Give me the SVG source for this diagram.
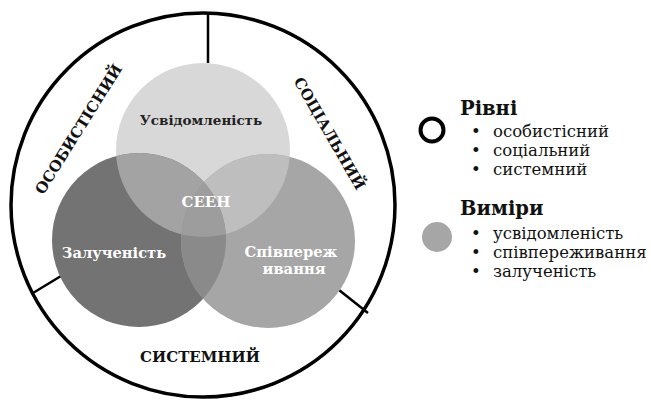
<svg xmlns="http://www.w3.org/2000/svg" width="651" height="403" viewBox="0 0 651 403">
<style>
.b{font-family:"DejaVu Serif","Liberation Serif",serif;font-weight:bold}
.r{font-family:"DejaVu Serif","Liberation Serif",serif}
.lbl{font-size:15px;fill:#111;text-anchor:middle}
.in{text-anchor:middle}
.leg{font-size:16.5px;fill:#111}
.hd{font-size:19.5px}
.ln{stroke:#000;stroke-width:2.5;fill:none}
</style>
<defs>
<clipPath id="cT"><circle cx="203" cy="150" r="87"/></clipPath>
<clipPath id="cL"><circle cx="139" cy="240" r="87"/></clipPath>
<clipPath id="cR"><circle cx="268" cy="241" r="87"/></clipPath>
</defs>
<rect width="651" height="403" fill="#fff"/>
<g id="ring">
<circle cx="203" cy="205" r="192" fill="none" stroke="#000" stroke-width="3.5"/>
</g>
<g id="connectors">
<line class="ln" x1="208" y1="14" x2="208" y2="63"/>
<line class="ln" x1="33" y1="293" x2="61" y2="276"/>
<line class="ln" x1="339" y1="290" x2="368" y2="313"/>
</g>
<g id="venn">
<circle id="top" cx="203" cy="150" r="87" fill="#d8d8d8"/>
<circle id="left" cx="139" cy="240" r="87" fill="#737373"/>
<circle id="right" cx="268" cy="241" r="87" fill="#a6a6a6"/>
<g clip-path="url(#cT)"><circle cx="139" cy="240" r="87" fill="#a3a3a3"/><circle cx="268" cy="241" r="87" fill="#bebebe"/></g>
<g clip-path="url(#cL)"><circle cx="268" cy="241" r="87" fill="#8a8a8a"/></g>
<g clip-path="url(#cL)"><g clip-path="url(#cR)"><circle cx="203" cy="150" r="87" fill="#9d9d9d"/></g></g>
</g>
<g id="n-usv"><text class="b in" x="201" y="125" font-size="13.5" fill="#222">Усвідомленість</text></g>
<g id="n-seen"><text class="b in" x="206" y="207" font-size="15" fill="#fff">СЕЕН</text></g>
<g id="n-zal"><text class="b in" x="114" y="258" font-size="14.7" fill="#fff">Залученість</text></g>
<g id="n-spiv"><text class="b in" x="291" y="257" font-size="14.7" fill="#fff">Співпереж</text><text class="b in" x="294" y="274" font-size="14.7" fill="#fff">ивання</text></g>
<g id="l-osob"><text class="b lbl" transform="translate(83,132) rotate(-58)">ОСОБИСТІСНИЙ</text></g>
<g id="l-soc"><text class="b lbl" transform="translate(325,136) rotate(60)">СОЦІАЛЬНИЙ</text></g>
<g id="l-sys"><text class="b lbl" x="200" y="362">СИСТЕМНИЙ</text></g>
<g id="legend">
<circle cx="432" cy="130" r="11.5" fill="none" stroke="#000" stroke-width="4"/>
<circle cx="437" cy="237" r="15" fill="#a6a6a6"/>
<text class="b leg hd" x="460" y="115">Рівні</text>
<text class="r leg" x="471" y="137">•</text><text class="r leg" x="493" y="137">особистісний</text>
<text class="r leg" x="471" y="156">•</text><text class="r leg" x="493" y="156">соціальний</text>
<text class="r leg" x="471" y="175">•</text><text class="r leg" x="493" y="175">системний</text>
<text class="b leg hd" x="460" y="215">Виміри</text>
<text class="r leg" x="471" y="239">•</text><text class="r leg" x="493" y="239">усвідомленість</text>
<text class="r leg" x="471" y="258">•</text><text class="r leg" x="493" y="258">співпереживання</text>
<text class="r leg" x="471" y="277">•</text><text class="r leg" x="493" y="277">залученість</text>
</g>
</svg>
